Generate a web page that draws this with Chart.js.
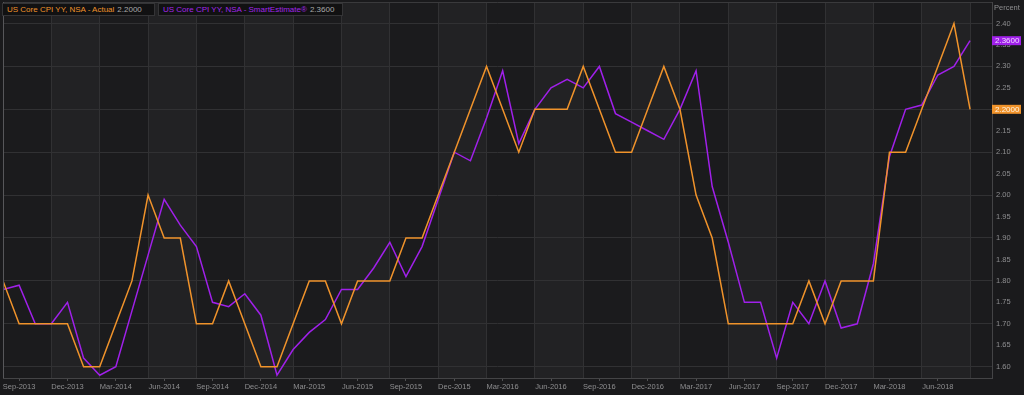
<!DOCTYPE html>
<html>
<head>
<meta charset="utf-8">
<script src="https://cdn.jsdelivr.net/npm/chart.js@4/dist/chart.umd.min.js"></script>
<style>
  html, body { margin: 0; padding: 0; background: #1a1a1c; }
  #wrap { position: relative; width: 1024px; height: 395px; }
  .leg {
    position: absolute; top: 3px; height: 13px; box-sizing: border-box;
    background: #111112; border: 1px solid #343436;
    font: 8px "Liberation Sans", Arial, sans-serif; line-height: 11px;
    padding-left: 4px; white-space: nowrap;
  }
  .leg .val { color: #a9a9a9; margin-left: 3px; }
</style>
</head>
<body>
<div id="wrap">
  <canvas id="chart" width="1024" height="395"></canvas>
  <div class="leg" style="left:2px;width:153px;"><span style="color:#f0932b">US Core CPI YY, NSA - Actual</span><span class="val">2.2000</span></div>
  <div class="leg" style="left:158px;width:185px;"><span style="color:#a326ea">US Core CPI YY, NSA - SmartEstimate®</span><span class="val">2.3600</span></div>
</div>
<script>
// monthly observations, Aug-2013 .. Aug-2018
const months = [
  'Aug-2013','Sep-2013','Oct-2013','Nov-2013','Dec-2013',
  'Jan-2014','Feb-2014','Mar-2014','Apr-2014','May-2014','Jun-2014','Jul-2014','Aug-2014','Sep-2014','Oct-2014','Nov-2014','Dec-2014',
  'Jan-2015','Feb-2015','Mar-2015','Apr-2015','May-2015','Jun-2015','Jul-2015','Aug-2015','Sep-2015','Oct-2015','Nov-2015','Dec-2015',
  'Jan-2016','Feb-2016','Mar-2016','Apr-2016','May-2016','Jun-2016','Jul-2016','Aug-2016','Sep-2016','Oct-2016','Nov-2016','Dec-2016',
  'Jan-2017','Feb-2017','Mar-2017','Apr-2017','May-2017','Jun-2017','Jul-2017','Aug-2017','Sep-2017','Oct-2017','Nov-2017','Dec-2017',
  'Jan-2018','Feb-2018','Mar-2018','Apr-2018','May-2018','Jun-2018','Jul-2018','Aug-2018'
];

const actual = [
  1.8, 1.7, 1.7, 1.7, 1.7,
  1.6, 1.6, 1.7, 1.8, 2.0, 1.9, 1.9, 1.7, 1.7, 1.8, 1.7, 1.6,
  1.6, 1.7, 1.8, 1.8, 1.7, 1.8, 1.8, 1.8, 1.9, 1.9, 2.0, 2.1,
  2.2, 2.3, 2.2, 2.1, 2.2, 2.2, 2.2, 2.3, 2.2, 2.1, 2.1, 2.2,
  2.3, 2.2, 2.0, 1.9, 1.7, 1.7, 1.7, 1.7, 1.7, 1.8, 1.7, 1.8,
  1.8, 1.8, 2.1, 2.1, 2.2, 2.3, 2.4, 2.2
];

const smartEstimate = [
  1.78, 1.79, 1.70, 1.70, 1.75,
  1.62, 1.58, 1.60, 1.73, 1.86, 1.99, 1.93, 1.88, 1.75, 1.74, 1.77, 1.72,
  1.58, 1.64, 1.68, 1.71, 1.78, 1.78, 1.83, 1.89, 1.81, 1.88, 1.99, 2.10,
  2.08, 2.18, 2.29, 2.12, 2.20, 2.25, 2.27, 2.25, 2.30, 2.19, 2.17, 2.15,
  2.13, 2.20, 2.29, 2.02, 1.89, 1.75, 1.75, 1.62, 1.75, 1.70, 1.80, 1.69,
  1.70, 1.84, 2.09, 2.20, 2.21, 2.28, 2.30, 2.36
];

const yTicks = [1.60, 1.65, 1.70, 1.75, 1.80, 1.85, 1.90, 1.95, 2.00, 2.05, 2.10, 2.15, 2.20, 2.25, 2.30, 2.35, 2.40];

const ORANGE = '#f0932b';
const PURPLE = '#a020ea';
const GRID = '#313133';
const TEXT = '#8e8e90';
const FONT = { family: '"Liberation Sans", Arial, sans-serif', size: 7.5 };

// alternating quarter bands behind the plot
const bandsPlugin = {
  id: 'bands',
  beforeDraw(chart) {
    const { ctx, chartArea: a, scales: { x } } = chart;
    ctx.save();
    for (let k = 0; k * 3 < x.max; k++) {
      const x0 = x.getPixelForValue(k * 3);
      const x1 = Math.min(x.getPixelForValue(k * 3 + 3), a.right);
      ctx.fillStyle = k % 2 ? '#222224' : '#1b1b1d';
      ctx.fillRect(x0, a.top, x1 - x0, a.bottom - a.top);
    }
    ctx.restore();
  },
  afterDraw(chart) {
    const { ctx, chartArea: a } = chart;
    ctx.save();
    ctx.lineWidth = 1;
    ctx.strokeStyle = '#3a3a3c';
    ctx.beginPath();
    ctx.moveTo(a.left, a.top + 0.5);
    ctx.lineTo(a.right, a.top + 0.5);
    ctx.stroke();
    ctx.strokeStyle = '#57575a';
    ctx.beginPath();
    ctx.moveTo(a.left + 0.5, a.top);
    ctx.lineTo(a.left + 0.5, a.bottom);
    ctx.stroke();
    // "Percent" unit label above the right axis
    ctx.fillStyle = TEXT;
    ctx.font = '7.5px "Liberation Sans", Arial, sans-serif';
    ctx.textBaseline = 'middle';
    ctx.fillText('Percent', a.right + 2, 8);
    ctx.restore();
  }
};

// last-value tags on the right axis
const tagPlugin = {
  id: 'tags',
  afterDraw(chart) {
    const { ctx, chartArea: a, scales: { y } } = chart;
    const tags = [
      { v: actual[actual.length - 1], bg: ORANGE, fg: '#fff4e6' },
      { v: smartEstimate[smartEstimate.length - 1], bg: PURPLE, fg: '#f2dcff' }
    ];
    ctx.save();
    ctx.font = '8px "Liberation Sans", Arial, sans-serif';
    ctx.textBaseline = 'middle';
    tags.forEach(t => {
      const py = y.getPixelForValue(t.v);
      ctx.fillStyle = t.bg;
      ctx.fillRect(a.right, py - 4.5, 29, 9);
      ctx.fillStyle = t.fg;
      ctx.fillText(t.v.toFixed(4), a.right + 3, py + 0.5);
    });
    ctx.restore();
  }
};

const ctx = document.getElementById('chart').getContext('2d');
new Chart(ctx, {
  type: 'line',
  data: {
    datasets: [
      {
        label: 'US Core CPI YY, NSA - Actual',
        data: actual.map((v, i) => ({ x: i, y: v })),
        borderColor: ORANGE,
        borderWidth: 1.5,
        pointRadius: 0,
        tension: 0
      },
      {
        label: 'US Core CPI YY, NSA - SmartEstimate®',
        data: smartEstimate.map((v, i) => ({ x: i, y: v })),
        borderColor: PURPLE,
        borderWidth: 1.5,
        pointRadius: 0,
        tension: 0
      }
    ]
  },
  options: {
    responsive: false,
    animation: false,
    devicePixelRatio: 1,
    layout: { padding: { left: 3, top: 2, right: 0, bottom: 0 } },
    plugins: {
      legend: { display: false },
      tooltip: { enabled: false }
    },
    scales: {
      x: {
        type: 'linear',
        min: 0,
        max: 61.36,
        afterBuildTicks: axis => { axis.ticks = months.map((m, i) => ({ value: i })); },
        afterFit: scale => {
          scale.height = 17;
          scale.paddingLeft = 0;
          scale.paddingRight = 0;
        },
        ticks: {
          autoSkip: false,
          maxRotation: 0,
          color: TEXT,
          font: FONT,
          padding: 1,
          callback: (v, i) => (i % 3 === 1 ? months[i] : '')
        },
        grid: {
          color: c => (c.index % 3 === 0 && c.index > 0 ? GRID : 'transparent'),
          tickColor: c => (c.index % 3 === 1 ? '#505052' : 'transparent'),
          tickLength: 3
        },
        border: { color: '#444446' }
      },
      y: {
        position: 'right',
        min: 1.5736,
        max: 2.4502,
        afterBuildTicks: axis => { axis.ticks = yTicks.map(v => ({ value: v })); },
        afterFit: scale => {
          scale.width = 32;
          scale.paddingTop = 0;
          scale.paddingBottom = 0;
        },
        ticks: {
          color: TEXT,
          font: FONT,
          padding: 4,
          callback: v => v.toFixed(2)
        },
        grid: {
          color: c => (Math.round(c.tick.value * 100) % 10 === 0 ? GRID : 'transparent'),
          drawTicks: false
        },
        border: { color: '#444446' }
      }
    }
  },
  plugins: [bandsPlugin, tagPlugin]
});
</script>
</body>
</html>
